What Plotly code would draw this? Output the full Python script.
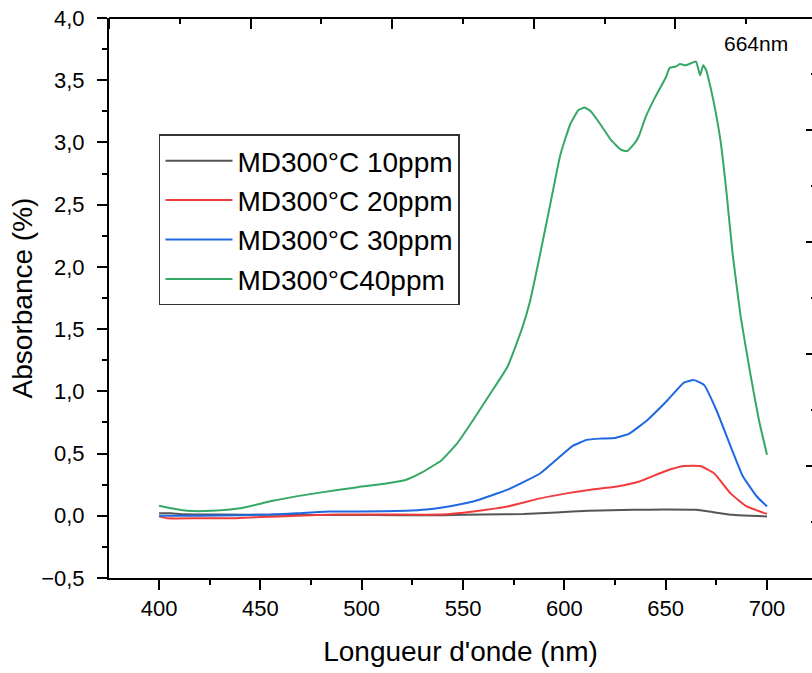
import plotly.graph_objects as go

# ---- data ----
wl_10 = [400, 406, 412, 430, 460, 490, 520, 540, 560, 580, 596, 612, 634, 650, 665, 673, 683, 692, 700]
abs_10 = [0.02, 0.02, 0.012, 0.01, 0.008, 0.006, 0.005, 0.005, 0.01, 0.015, 0.027, 0.04, 0.048, 0.05, 0.048, 0.03, 0.008, 0.0, -0.005]

wl_20 = [400, 404, 420, 437, 450, 468, 488, 510, 539, 555, 572, 588, 601, 613, 626, 637, 650, 659, 667, 674, 682, 690, 700]
abs_20 = [-0.005, -0.02, -0.02, -0.02, -0.01, 0.0, 0.01, 0.01, 0.01, 0.035, 0.075, 0.14, 0.18, 0.21, 0.235, 0.275, 0.36, 0.40, 0.40, 0.34, 0.18, 0.075, 0.015]

wl_30 = [400, 420, 440, 455, 468, 484, 500, 522, 532, 539, 555, 572, 581, 588, 596, 604, 611, 618, 625, 632, 641, 651, 659, 664, 669, 675, 682, 688, 695, 700]
abs_30 = [0.0, 0.0, 0.005, 0.01, 0.02, 0.035, 0.035, 0.04, 0.05, 0.065, 0.115, 0.21, 0.28, 0.34, 0.45, 0.56, 0.61, 0.62, 0.625, 0.66, 0.77, 0.93, 1.07, 1.09, 1.05, 0.85, 0.56, 0.32, 0.155, 0.075]

wl_40 = [400, 406, 414, 426, 440, 456, 473, 489, 498, 512, 522, 530, 537, 539, 547, 555, 563, 572, 579, 583, 588, 593, 598, 603, 607, 610, 613, 618, 623, 628, 631, 635, 637, 640, 645, 650, 652, 655, 657, 660, 663, 665, 667, 668.5, 670, 671, 673.5, 677, 680, 683, 687, 692, 696, 700]
abs_40 = [0.08, 0.06, 0.04, 0.04, 0.06, 0.12, 0.17, 0.21, 0.23, 0.26, 0.29, 0.35, 0.42, 0.44, 0.58, 0.77, 0.97, 1.2, 1.5, 1.72, 2.1, 2.5, 2.9, 3.15, 3.26, 3.28, 3.25, 3.14, 3.02, 2.94, 2.93, 3.0, 3.06, 3.2, 3.37, 3.52, 3.6, 3.61, 3.63, 3.62, 3.64, 3.65, 3.54, 3.62, 3.58, 3.52, 3.34, 3.02, 2.6, 2.11, 1.6, 1.12, 0.77, 0.49]

series_names = ["MD300°C 10ppm", "MD300°C 20ppm", "MD300°C 30ppm", "MD300°C40ppm"]
series_colors = ["#555555", "#f03c3c", "#2068e0", "#35a865"]

x_ticks = [400, 450, 500, 550, 600, 650, 700]
y_ticks = [-0.5, 0.0, 0.5, 1.0, 1.5, 2.0, 2.5, 3.0, 3.5, 4.0]
frame_ticks = [0, 1, 2, 3, 4, 5]
peak_label = "664nm"

FONT = "Arial, Liberation Sans, sans-serif"

fig = go.Figure()
for wl, ab, name, col in zip([wl_10, wl_20, wl_30, wl_40],
                             [abs_10, abs_20, abs_30, abs_40],
                             series_names, series_colors):
    fig.add_trace(go.Scatter(x=wl, y=ab, mode="lines", name=name,
                             line=dict(color=col, width=2, shape="spline", smoothing=0.4)))

# frame layer (top / right axes with their own ticks) - no visible marks
fig.add_trace(go.Scatter(x=frame_ticks, y=frame_ticks, xaxis="x2", yaxis="y2", mode="none",
                         showlegend=False, hoverinfo="skip"))

axis_common = dict(showgrid=False, zeroline=False, showline=True, automargin=False,
                   linecolor="black", linewidth=2, ticks="outside",
                   tickcolor="black", tickwidth=2, ticklen=10, ticklabeloverflow="allow",
                   tickfont=dict(family=FONT, size=22, color="black"))

frame_common = dict(domain=[0, 1], automargin=False, showgrid=False, zeroline=False,
                    tickcolor="black", tickwidth=2,
                    tickvals=frame_ticks, showticklabels=False, fixedrange=True)

W_NM_RIGHT = 722.2   # wavelength at the right edge of the visible frame
FRAME_RIGHT = 5 * (812 - 109) / (817 - 109)

fig.update_layout(
    width=812, height=673,
    margin=dict(l=109, r=0, t=18, b=95, autoexpand=False),
    paper_bgcolor="white", plot_bgcolor="rgba(0,0,0,0)",
    separators=", ",
    showlegend=True,
    legend=dict(x=0.0711, y=0.792, xanchor="left", yanchor="top",
                bgcolor="white", bordercolor="#333333", borderwidth=1.5,
                font=dict(family=FONT, size=28, color="black"),
                itemwidth=67, tracegroupgap=0),
    xaxis=dict(range=[375.3, W_NM_RIGHT], tickvals=x_ticks, ticklabelstandoff=0,
               minor=dict(dtick=25, tick0=375, ticklen=5, tickwidth=2, ticks="outside", tickcolor="black"),
               title=dict(text="Longueur d'onde (nm)", font=dict(family=FONT, size=28, color="black"), standoff=21),
               **axis_common),
    yaxis=dict(range=[-0.5, 4.0], tickvals=y_ticks, tickformat=".1f", ticklabelstandoff=8,
               minor=dict(dtick=0.25, tick0=-0.5, ticklen=5, tickwidth=2, ticks="outside", tickcolor="black"),
               title=dict(text="Absorbance (%)", font=dict(family=FONT, size=28, color="black"), standoff=0),
               **axis_common),
    # frame axis placed on the top edge; ticks point down into the plot
    xaxis2=dict(side="bottom", anchor="free", position=1.0, range=[0, FRAME_RIGHT],
                ticks="outside", ticklen=10,
                showline=True, linecolor="black", linewidth=2,
                minor=dict(dtick=0.5, tick0=0, ticklen=5, tickwidth=2, ticks="outside", tickcolor="black"),
                **frame_common),
    yaxis2=dict(side="right", anchor="x2", range=[0, 5], ticks="inside", ticklen=6, showline=False,
                minor=dict(dtick=0.5, tick0=0, ticklen=1, tickwidth=2, ticks="inside", tickcolor="black"),
                **frame_common),
    annotations=[dict(text=peak_label, xref="paper", yref="paper", x=0.921, y=0.955,
                      xanchor="center", yanchor="middle",
                      showarrow=False, font=dict(family=FONT, size=21, color="black"))],
)

fig.write_html("out.html", config={"displayModeBar": False},
               post_script="document.body.style.margin='0px';")
